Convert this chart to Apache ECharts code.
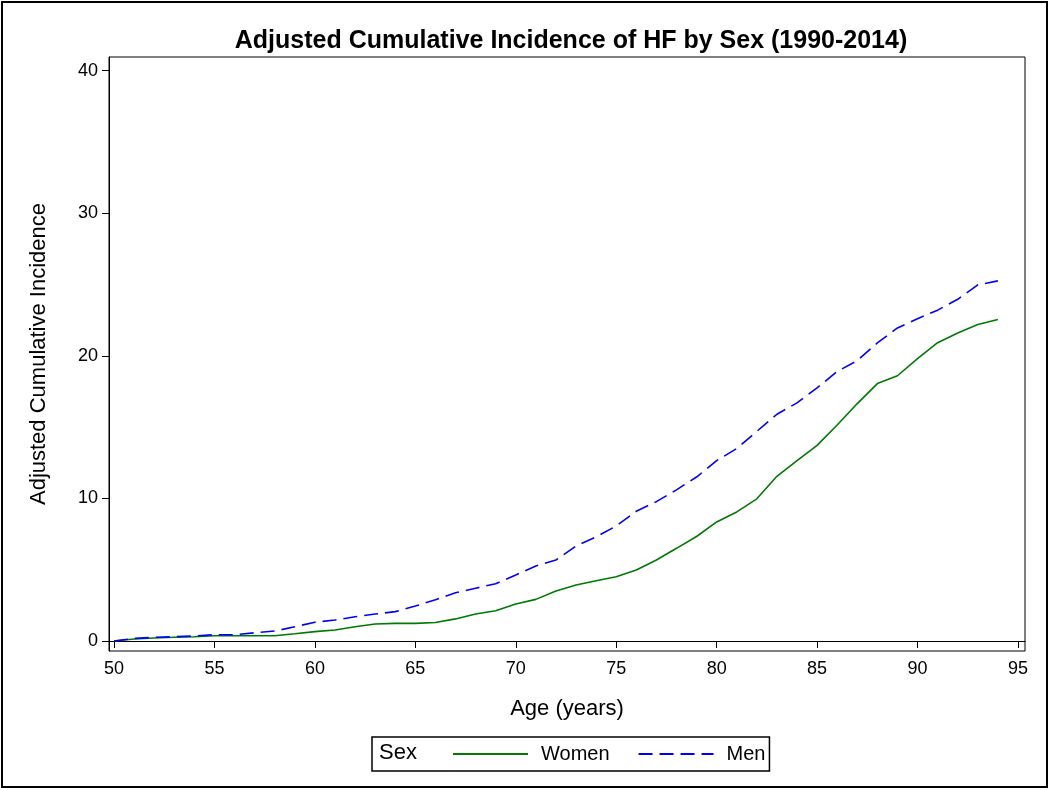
<!DOCTYPE html>
<html>
<head>
<meta charset="utf-8">
<script src="https://cdn.jsdelivr.net/npm/echarts@6/dist/echarts.min.js"></script>
<style>
html,body{margin:0;padding:0;background:#fff;}
#chart{width:1050px;height:790px;}
</style>
</head>
<body>
<div id="chart"></div>
<script>
const ages = [50,51,52,53,54,55,56,57,58,59,60,61,62,63,64,65,66,67,68,69,70,71,72,73,74,75,76,77,78,79,80,81,82,83,84,85,86,87,88,89,90,91,92,93,94];
const women = [0,0.14,0.21,0.26,0.3,0.37,0.37,0.37,0.37,0.51,0.66,0.77,1.0,1.19,1.24,1.24,1.3,1.55,1.89,2.12,2.6,2.92,3.5,3.93,4.23,4.51,4.98,5.68,6.5,7.33,8.35,9.05,9.97,11.55,12.65,13.72,15.15,16.65,18.05,18.6,19.8,20.92,21.6,22.2,22.55];
const men = [0,0.18,0.26,0.3,0.35,0.44,0.44,0.58,0.7,1.0,1.32,1.47,1.7,1.89,2.06,2.45,2.9,3.38,3.7,4.02,4.63,5.26,5.68,6.66,7.3,8.06,9.1,9.77,10.6,11.5,12.65,13.5,14.7,15.9,16.7,17.75,18.9,19.66,20.9,21.95,22.6,23.2,23.96,24.97,25.25];
const xTicks = [50,55,60,65,70,75,80,85,90,95];
const yTicks = [0,10,20,30,40];

const chart = echarts.init(document.getElementById('chart'));
const font = 'Liberation Sans, Arial, sans-serif';
chart.setOption({
  animation: false,
  backgroundColor: '#fff',
  title: {
    text: 'Adjusted Cumulative Incidence of HF by Sex (1990-2014)',
    left: 566, top: 24, textAlign: 'center',
    textStyle: {fontFamily: font, fontSize: 25, fontWeight: 'bold', color: '#000'}
  },
  grid: {left: 109, right: 25, top: 57, bottom: 139, show: true, borderColor: '#000', borderWidth: 1, backgroundColor: 'transparent'},
  xAxis: {
    type: 'value', min: 49.75, max: 95.35,
    name: 'Age (years)', nameLocation: 'middle', nameGap: 47,
    nameTextStyle: {fontFamily: font, fontSize: 22, color: '#000'},
    axisLine: {show: true, lineStyle: {color: '#000', width: 1}},
    axisTick: {show: true, inside: false, length: 7, customValues: xTicks, lineStyle: {color: '#000'}},
    axisLabel: {customValues: xTicks, fontFamily: font, fontSize: 18, color: '#000', margin: 9},
    splitLine: {show: false}
  },
  yAxis: {
    type: 'value', min: -0.7, max: 40.95,
    name: 'Adjusted Cumulative Incidence', nameLocation: 'middle', nameGap: 59,
    nameTextStyle: {fontFamily: font, fontSize: 22, color: '#000'},
    axisLine: {show: true, lineStyle: {color: '#000', width: 1}},
    axisTick: {show: true, inside: false, length: 7, customValues: yTicks, lineStyle: {color: '#000'}},
    axisLabel: {customValues: yTicks, fontFamily: font, fontSize: 18, color: '#000', margin: 11},
    splitLine: {show: false}
  },
  legend: {
    left: 372, top: 737, orient: 'horizontal',
    padding: [7, 4, 7, 80],
    borderColor: '#000', borderWidth: 1.5,
    itemWidth: 75, itemHeight: 18, itemGap: 28,
    itemStyle: {opacity: 0},
    textStyle: {fontFamily: font, fontSize: 20, color: '#000', padding: [0, 0, 0, 8]},
    data: [{name: 'Women'}, {name: 'Men'}]
  },
  graphic: [
    {type: 'text', left: 379, top: 742, style: {text: 'Sex', fontFamily: font, fontSize: 22, fill: '#000'}},
    {type: 'rect', shape: {x: 2, y: 2, width: 1045, height: 785}, style: {fill: 'none', stroke: '#000', lineWidth: 2}}
  ],
  series: [
    {name: 'Women', type: 'line', symbol: 'none', data: ages.map((a, i) => [a, women[i]]),
     lineStyle: {color: '#007a00', width: 1.6}, itemStyle: {color: '#007a00'}},
    {name: 'Men', type: 'line', symbol: 'none', data: ages.map((a, i) => [a, men[i]]),
     lineStyle: {color: '#0000ff', width: 1.6, type: [14, 7]}, itemStyle: {color: '#0000ff'}}
  ]
});
</script>
</body>
</html>
